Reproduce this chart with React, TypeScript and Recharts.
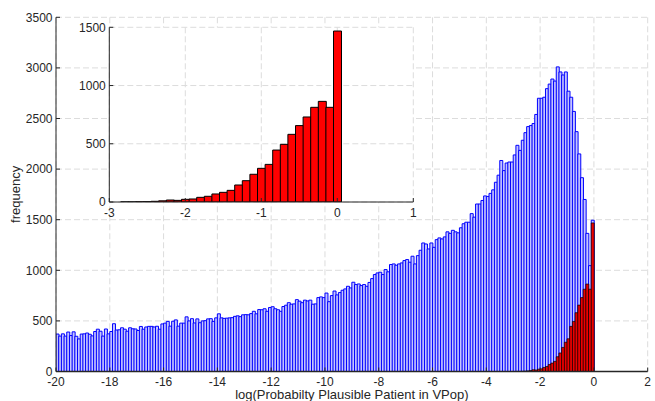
import React from 'react';
import { ComposedChart, Bar, XAxis, YAxis, CartesianGrid, Label } from 'recharts';

const mainXTicks = [-20, -18, -16, -14, -12, -10, -8, -6, -4, -2, 0, 2];
const mainYTicks = [0, 500, 1000, 1500, 2000, 2500, 3000, 3500];
const insetXTicks = [-3, -2, -1, 0, 1];
const insetYTicks = [0, 500, 1000, 1500];

// blue histogram: 200 bins of width 0.1 starting at -20
const blueFirstCenter = -19.95;
const binWidth = 0.1;
const blueCounts = [
  370, 350, 372, 350, 390, 355, 392, 348, 322, 370,
  372, 380, 368, 352, 395, 418, 398, 350, 420, 372,
  395, 472, 410, 412, 432, 418, 398, 432, 422, 420,
  405, 445, 418, 440, 446, 446, 440, 447, 418, 470,
  478, 495, 448, 497, 510, 448, 478, 478, 540, 500,
  522, 480, 520, 482, 500, 502, 520, 522, 495, 530,
  570, 530, 525, 527, 530, 532, 545, 550, 542, 560,
  562, 560, 572, 595, 570, 612, 610, 620, 595, 632,
  640, 620, 610, 595, 642, 655, 680, 665, 668, 710,
  695, 680, 705, 697, 705, 665, 668, 730, 737, 730,
  775, 690, 750, 795, 757, 780, 803, 816, 842, 826,
  882, 859, 865, 849, 859, 842, 880, 918, 958, 974,
  981, 958, 1007, 985, 1057, 1063, 1050, 1063, 1073, 1096,
  1106, 1080, 1139, 1063, 1145, 1198, 1270, 1260, 1211, 1270,
  1227, 1303, 1320,
  1310, 1330, 1380, 1365, 1395, 1380, 1370, 1420, 1460, 1475,
  1475, 1560, 1525, 1655, 1655, 1690, 1735, 1730, 1760, 1795,
  1870, 1940, 2085, 1985, 2060, 2070, 2070, 2140, 2235, 2185,
  2285, 2360, 2420, 2430, 2450, 2540, 2700, 2700, 2710, 2795,
  2840, 2890, 2870, 3010, 2960, 2930, 2960, 2770, 2710, 2570,
  2370, 2150, 1915, 1700, 1365, 1046, 1495,
];

// red histogram: bins centred at -3.0 ... 1.0
const redCenters = [
  -3.0, -2.9, -2.8, -2.7, -2.6, -2.5, -2.4, -2.3, -2.2, -2.1,
  -2.0, -1.9, -1.8, -1.7, -1.6, -1.5, -1.4, -1.3, -1.2, -1.1,
  -1.0, -0.9, -0.8, -0.7, -0.6, -0.5, -0.4, -0.3, -0.2, -0.1,
  0.0, 0.1, 0.2, 0.3, 0.4, 0.5, 0.6, 0.7, 0.8, 0.9, 1.0,
];
const redCounts = [
  0, 0, 1, 1, 2, 3, 6, 10, 17, 14,
  23, 26, 40, 49, 69, 83, 100, 146, 183, 238,
  289, 323, 446, 495, 581, 656, 730, 813, 864, 813,
  1468, 0, 0, 0, 0, 0, 0, 0, 0, 0, 0,
];

const redZeroIndex = redCenters.indexOf(0);
const redOffset = blueCounts.length - 1 - redZeroIndex;

const mainData = blueCounts.map((b, i) => {
  const j = i - redOffset;
  const r = j >= 0 && j < redCounts.length ? redCounts[j] : 0;
  return { x: Math.round((blueFirstCenter + i * binWidth) * 1000) / 1000, blue: b, red: r };
});

const insetData = redCenters.map((x, j) => ({ x, red: redCounts[j] }));

const FONT = '"Liberation Sans", Arial, Helvetica, sans-serif';
const AX = '#262626';
const GRID = '#dcdcdc';
const emptyTick = () => <g />;

export default function App() {
  return (
    <div style={{ position: 'absolute', left: 0, top: 0, width: 655, height: 401, background: '#fff', fontFamily: FONT }}>
      <div style={{ position: 'absolute', left: 0, top: 0 }}>
        <ComposedChart
          width={655}
          height={401}
          data={mainData}
          margin={{ top: 17.3, right: 7.3, bottom: 0, left: 0 }}
          barCategoryGap={0}
          barGap={0}
        >
          <CartesianGrid stroke={GRID} strokeDasharray="6 3" />
          <Bar dataKey="blue" fill="#c4c4ff" stroke="#0000ff" strokeWidth={1} isAnimationActive={false} />
          <Bar xAxisId="red" dataKey="red" fill="#ee0000" stroke="#000" strokeWidth={0.7} isAnimationActive={false} />
          <XAxis
            dataKey="x"
            type="number"
            domain={[-20, 2]}
            ticks={mainXTicks}
            allowDataOverflow
            interval={0}
            height={29.5}
            tickSize={-4}
            tickMargin={9.5}
            axisLine={{ stroke: AX, strokeWidth: 1.5 }}
            tickLine={{ stroke: AX }}
            tick={{ fill: AX, fontSize: 12, fontFamily: FONT }}
          >
            <Label
              value="log(Probabilty Plausible Patient in VPop)"
              position="insideBottom"
              offset={2.5}
              style={{ fontSize: 13, fill: AX, fontFamily: FONT }}
            />
          </XAxis>
          <XAxis xAxisId="red" dataKey="x" type="number" domain={[-20, 2]} allowDataOverflow hide />
          <XAxis
            xAxisId="top"
            orientation="top"
            type="number"
            domain={[-20, 2]}
            ticks={mainXTicks}
            allowDataOverflow
            interval={0}
            height={0}
            tickSize={-4}
            axisLine={{ stroke: AX }}
            tickLine={{ stroke: AX }}
            tick={emptyTick}
          />
          <YAxis
            type="number"
            domain={[0, 3500]}
            ticks={mainYTicks}
            allowDataOverflow
            interval={0}
            width={56}
            tickSize={-4}
            tickMargin={7.5}
            axisLine={{ stroke: AX }}
            tickLine={{ stroke: AX }}
            tick={{ fill: AX, fontSize: 12, fontFamily: FONT }}
          >
            <Label
              value="frequency"
              angle={-90}
              position="insideLeft"
              offset={15}
              style={{ fontSize: 13, fill: AX, fontFamily: FONT, textAnchor: 'middle' }}
            />
          </YAxis>
          <YAxis
            yAxisId="right"
            orientation="right"
            type="number"
            domain={[0, 3500]}
            ticks={mainYTicks}
            allowDataOverflow
            interval={0}
            width={0}
            tickSize={-4}
            axisLine={{ stroke: AX }}
            tickLine={{ stroke: AX }}
            tick={emptyTick}
          />
        </ComposedChart>
      </div>
      <div style={{ position: 'absolute', left: 0, top: 0 }}>
        <ComposedChart
          width={420}
          height={230}
          data={insetData}
          margin={{ top: 27.3, right: 6.7, bottom: 0, left: 0 }}
          barCategoryGap={0}
          barGap={0}
        >
          <CartesianGrid stroke={GRID} strokeDasharray="6 3" fill="#ffffff" fillOpacity={1} />
          <Bar dataKey="red" fill="#ff0000" stroke="#000" strokeWidth={1} isAnimationActive={false} />
          <XAxis
            dataKey="x"
            type="number"
            domain={[-3, 1]}
            ticks={insetXTicks}
            allowDataOverflow
            interval={0}
            height={28}
            tickSize={-4}
            tickMargin={10.3}
            axisLine={{ stroke: AX }}
            tickLine={{ stroke: AX }}
            tick={{ fill: AX, fontSize: 12, fontFamily: FONT }}
          />
          <XAxis
            xAxisId="top"
            orientation="top"
            type="number"
            domain={[-3, 1]}
            ticks={insetXTicks}
            allowDataOverflow
            interval={0}
            height={0}
            tickSize={-4}
            axisLine={{ stroke: AX }}
            tickLine={{ stroke: AX }}
            tick={emptyTick}
          />
          <YAxis
            type="number"
            domain={[0, 1500]}
            ticks={insetYTicks}
            allowDataOverflow
            interval={0}
            width={109.3}
            tickSize={-4}
            tickMargin={7.5}
            axisLine={{ stroke: AX }}
            tickLine={{ stroke: AX }}
            tick={{ fill: AX, fontSize: 12, fontFamily: FONT }}
          />
          <YAxis
            yAxisId="right"
            orientation="right"
            type="number"
            domain={[0, 1500]}
            ticks={insetYTicks}
            allowDataOverflow
            interval={0}
            width={0}
            tickSize={-4}
            axisLine={{ stroke: AX }}
            tickLine={{ stroke: AX }}
            tick={emptyTick}
          />
        </ComposedChart>
      </div>
    </div>
  );
}
